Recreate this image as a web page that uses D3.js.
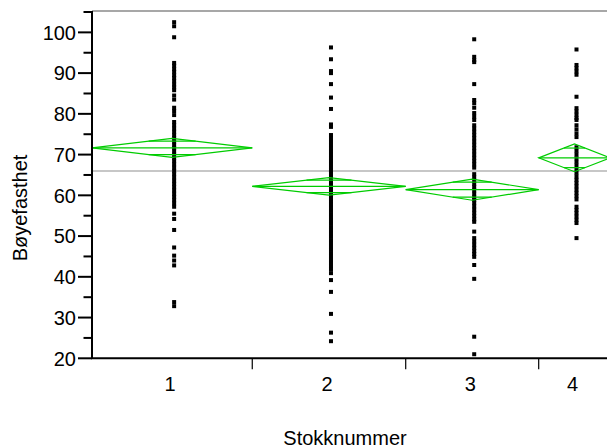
<!DOCTYPE html>
<html>
<head>
<meta charset="utf-8">
<script src="https://cdn.jsdelivr.net/npm/d3@7"></script>
<style>
  body { margin: 0; background: #fff; }
  text { font-family: "Liberation Sans", Arial, sans-serif; fill: #000; }
</style>
</head>
<body>
<svg width="607" height="448"></svg>
<script>
// groups on the x axis (widths follow group sizes)
var categories = ["1", "2", "3", "4"];
var counts = [47, 45, 39, 21];

// means diamonds: group mean and half width of the 95% interval
var means = [71.65, 62.2, 61.4, 69.2];
var ciHalf = [2.35, 2.15, 2.6, 3.4];
var grandMean = 66.0;

var yMajor = [20, 30, 40, 50, 60, 70, 80, 90, 100];
var yMinor = [25, 35, 45, 55, 65, 75, 85, 95, 105];

var values1 = [102.5, 101.5, 98.8, 92.5, 91.8, 91, 90.3, 89.5, 88.8, 88, 87.2, 86.5, 85.8, 84.5, 83.5,
  81.5, 80.7, 79.7, 78, 77.2, 76.4, 75.6, 74.8, 74, 73.2, 72.4, 71.6, 70.8, 70, 69.2, 68.4, 67.6,
  66.8, 66, 65.2, 64.4, 63.6, 62.8, 62, 61.2, 60.4, 59.6, 58.8, 58, 57.2, 55.5, 54.2, 51.5, 47.2,
  45.2, 44, 42.8, 33.8, 32.8];
var values2 = [96.3, 93.4, 90.5, 90, 87.3, 84, 81.2, 77.4, 76.8, 74.8, 74, 73.1, 72.3, 71.5, 70.8,
  70, 69.2, 68.5, 67.7, 66.9, 66.1, 65.3, 64.5, 63.8, 63, 62.2, 61.5, 60.8, 60, 59.2, 58.5, 57.8,
  57, 56.2, 55.4, 54.6, 53.8, 53, 52.2, 51.4, 50.6, 49.8, 49, 48.2, 47.4, 46.6, 45.8, 45, 44.2,
  43.4, 42.6, 41.8, 40.9, 39.2, 36.3, 30.9, 26.3, 24.2];
var values3 = [98.3, 94, 93.2, 92.7, 87.3, 83.4, 82.6, 81.5, 80.2, 79.3, 78.5, 77.2, 76.4, 75.6,
  74.8, 74, 73.2, 72.4, 71.6, 70.8, 70, 69.2, 68.4, 67.6, 66.8, 65.2, 64.4, 63.6, 62.8, 62, 61.2,
  60.4, 59.6, 58.9, 58.1, 57.3, 56.5, 55.7, 54.9, 54.1, 53.5, 51.1, 49.5, 48.7, 47.9, 47.1, 46.3,
  45.6, 44.9, 42.9, 39.5, 25.3, 21];
var values4 = [95.8, 92, 91.2, 90.4, 89.6, 84.2, 81.4, 80.6, 79.8, 79, 78.5, 77.2, 76.2, 75.2, 74.3,
  71.8, 70.9, 70, 69.1, 68.2, 67.3, 66.4, 65.5, 64.6, 63.8, 63, 62.2, 61.4, 60.6, 59.8, 59, 57.2,
  56.4, 55.6, 54.8, 54, 53.2, 49.5];
var groupValues = [values1, values2, values3, values4];

var svg = d3.select("svg"),
    plotLeft = 92,
    plotBottom = 358.3,
    plotTop = 12,
    green = "#00cc00";

var starts = [];
var total = 0;
counts.forEach(function(c) { starts.push(total); total += c; });

var x = d3.scaleLinear().domain([0, total]).range([plotLeft, 610.3]);
var y = d3.scaleLinear().domain([20, 105]).range([plotBottom, plotTop]);

function catLeft(i) { return x(starts[i]); }
function catRight(i) { return x(starts[i] + counts[i]); }
function catMid(i) { return x(starts[i] + counts[i] / 2); }

// top frame line
svg.append("line")
    .attr("x1", plotLeft).attr("x2", 607)
    .attr("y1", plotTop - 1).attr("y2", plotTop - 1)
    .style("stroke", "#8a8a8a")
    .attr("stroke-width", 1.5);

// grand mean
svg.append("line")
    .attr("x1", plotLeft).attr("x2", 607)
    .attr("y1", y(grandMean)).attr("y2", y(grandMean))
    .style("stroke", "#b4b4b4")
    .attr("stroke-width", 1.5);

// points
var pts = svg.append("g").attr("class", "points");
groupValues.forEach(function(vals, i) {
    pts.selectAll("rect.g" + i)
        .data(vals)
        .enter().append("rect")
        .attr("class", "g" + i)
        .attr("x", catMid(i))
        .attr("y", function(d) { return y(d) - 2; })
        .attr("width", 4)
        .attr("height", 4)
        .style("fill", "#000");
});

// means diamonds
var dia = svg.append("g").attr("class", "diamonds");
categories.forEach(function(c, i) {
    var x0 = catLeft(i), x1 = catRight(i), xm = catMid(i);
    var m = means[i], h = ciHalf[i];
    dia.append("path")
        .attr("d", "M" + x0 + "," + y(m) + "L" + xm + "," + y(m + h) + "L" + x1 + "," + y(m) +
            "L" + xm + "," + y(m - h) + "Z")
        .style("fill", "none")
        .style("stroke", green)
        .attr("stroke-width", 1.2);
    dia.append("line")
        .attr("x1", x0).attr("x2", x1)
        .attr("y1", y(m)).attr("y2", y(m))
        .style("stroke", green)
        .attr("stroke-width", 1.2);
    // overlap marks
    var off = h * Math.SQRT1_2,
        half = (x1 - x0) / 2 * (1 - Math.SQRT1_2);
    [m + off, m - off].forEach(function(v) {
        dia.append("line")
            .attr("x1", xm - half).attr("x2", xm + half)
            .attr("y1", y(v)).attr("y2", y(v))
            .style("stroke", green)
            .attr("stroke-width", 1.2);
    });
});

// y axis
var yAxis = svg.append("g").attr("class", "y axis");
yAxis.append("line")
    .attr("x1", plotLeft).attr("x2", plotLeft)
    .attr("y1", plotTop - 1).attr("y2", plotBottom)
    .style("stroke", "#000").attr("stroke-width", 2);
yAxis.selectAll("line.major")
    .data(yMajor)
    .enter().append("line")
    .attr("class", "major")
    .attr("x1", plotLeft - 14).attr("x2", plotLeft)
    .attr("y1", y).attr("y2", y)
    .style("stroke", "#000").attr("stroke-width", 2);
yAxis.selectAll("line.minor")
    .data(yMinor)
    .enter().append("line")
    .attr("class", "minor")
    .attr("x1", plotLeft - 8.5).attr("x2", plotLeft)
    .attr("y1", y).attr("y2", y)
    .style("stroke", "#000").attr("stroke-width", 2);
yAxis.selectAll("text")
    .data(yMajor)
    .enter().append("text")
    .attr("x", plotLeft - 16)
    .attr("y", y)
    .attr("dy", "0.36em")
    .attr("text-anchor", "end")
    .attr("font-size", "20px")
    .text(function(d) { return d; });

// x axis
var xAxis = svg.append("g").attr("class", "x axis");
xAxis.append("line")
    .attr("x1", plotLeft - 1).attr("x2", 607)
    .attr("y1", plotBottom).attr("y2", plotBottom)
    .style("stroke", "#000").attr("stroke-width", 2);
xAxis.selectAll("line.tick")
    .data(categories.slice(1))
    .enter().append("line")
    .attr("class", "tick")
    .attr("x1", function(d, i) { return catLeft(i + 1); })
    .attr("x2", function(d, i) { return catLeft(i + 1); })
    .attr("y1", plotBottom).attr("y2", plotBottom + 11)
    .style("stroke", "#000").attr("stroke-width", 1.2);
xAxis.selectAll("text")
    .data(categories)
    .enter().append("text")
    .attr("x", function(d, i) { return catMid(i) - 2; })
    .attr("y", 391)
    .attr("text-anchor", "middle")
    .attr("font-size", "20px")
    .text(function(d) { return d; });

// axis titles
svg.append("text")
    .attr("x", 345)
    .attr("y", 445)
    .attr("text-anchor", "middle")
    .attr("font-size", "20px")
    .text("Stokknummer");
svg.append("text")
    .attr("transform", "translate(27,208) rotate(-90)")
    .attr("text-anchor", "middle")
    .attr("font-size", "20px")
    .text("Bøyefasthet");
</script>
</body>
</html>
